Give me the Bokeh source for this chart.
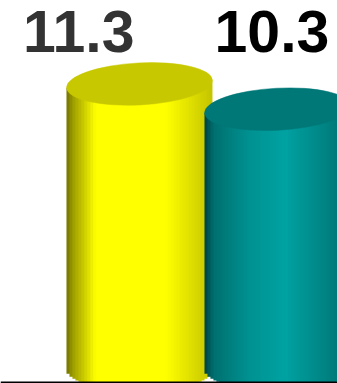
import numpy as np
from bokeh.plotting import figure
from bokeh.models import Range1d, Span, ColumnDataSource
from bokeh.core.properties import value
from bokeh.embed import file_html
from bokeh.resources import INLINE

# ---- data ----
series = ["Series 1", "Series 2"]
values = [11.3, 10.3]
labels = ["11.3", "10.3"]

# ---- styles ----
top_colors = ["#C8C800", "#007878"]
label_colors = ["#333333", "#000000"]
shade_stops = [
    ([0.0, 0.05, 0.2, 0.68, 1.0],
     [(115, 115, 0), (160, 160, 0), (255, 255, 0), (255, 255, 0), (195, 195, 0)]),
    ([0.0, 0.06, 0.3, 0.55, 0.85, 1.0],
     [(0, 64, 64), (0, 110, 110), (0, 145, 145), (0, 162, 162), (0, 128, 128), (0, 112, 112)]),
]
label_dx = [-0.44, -0.04]

W, H = 337, 383
x0, x1 = -1.007, 1.435
y0, y1 = -0.55, 14.6
ppx = W / (x1 - x0)   # px per x unit
ppy = H / (y1 - y0)   # px per y unit
half_w = 73 / ppx     # cylinder half width in data units
ell_h = 42            # ellipse height, px
tilt = np.deg2rad(3)
baseline = -0.514

p = figure(width=W, height=H, output_backend="svg", toolbar_location=None,
           x_range=Range1d(x0, x1), y_range=Range1d(y0, y1),
           min_border=0, border_fill_color="white", outline_line_color=None)
p.axis.visible = False
p.grid.visible = False

n = 49
for i, v in enumerate(values):
    t_edges = np.linspace(0, 1, n + 1)
    left = i - half_w + t_edges[:-1] * 2 * half_w
    right = i - half_w + t_edges[1:] * 2 * half_w
    right[:-1] += 1.0 / ppx   # small overlap to hide seams
    tc = (t_edges[:-1] + t_edges[1:]) / 2
    dx_px = (tc - 0.5) * 2 * half_w * ppx
    top = v + np.tan(tilt) * dx_px / ppy
    bdepth = (ell_h / 2) * np.sqrt(np.clip(1 - (dx_px / (half_w * ppx)) ** 2, 0, 1)) / ppy
    bottom = np.maximum(0 - bdepth, baseline)
    ts, cs = shade_stops[i]
    cs = np.array(cs, dtype=float)
    cols = []
    for t in tc:
        r = int(round(np.interp(t, ts, cs[:, 0])))
        g = int(round(np.interp(t, ts, cs[:, 1])))
        b = int(round(np.interp(t, ts, cs[:, 2])))
        cols.append("#%02x%02x%02x" % (r, g, b))
    src = ColumnDataSource(dict(left=left, right=right, top=top, bottom=bottom, c=cols))
    p.quad(left="left", right="right", top="top", bottom="bottom", source=src,
           fill_color="c", line_color=None)
    p.ellipse(x=[i], y=[v], width=2 * half_w * ppx, height=ell_h, angle=tilt,
              width_units="screen", height_units="screen",
              fill_color=top_colors[i], line_color=top_colors[i], line_width=0.5)

p.add_layout(Span(location=baseline, dimension="width", line_color="black", line_width=2))

label_y = max(values) * 1.185
p.text(x=[i + label_dx[i] for i in range(len(values))], y=[label_y] * len(values),
       text=labels, text_color=label_colors, text_align="center", text_baseline="alphabetic",
       text_font=value("Liberation Sans"), text_font_style="bold", text_font_size="59px")

open("out.html", "w").write(file_html(p, INLINE))
